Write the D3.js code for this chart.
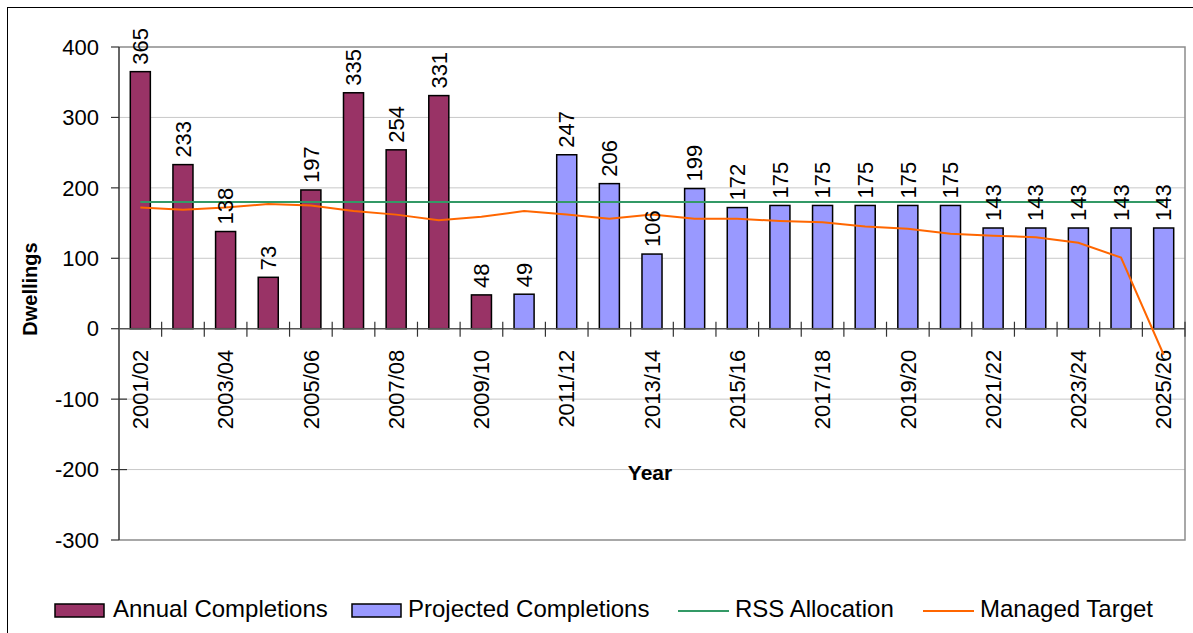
<!DOCTYPE html>
<html>
<head>
<meta charset="utf-8">
<script src="https://cdn.jsdelivr.net/npm/d3@7"></script>
<style>
  html, body { margin: 0; padding: 0; background: #fff; }
  svg { display: block; font-family: "Liberation Sans", Arial, sans-serif; }
</style>
</head>
<body>
<svg id="chart" width="1193" height="633"></svg>
<script>
const categories = ["2001/02","2002/03","2003/04","2004/05","2005/06","2006/07","2007/08","2008/09","2009/10","2010/11","2011/12","2012/13","2013/14","2014/15","2015/16","2016/17","2017/18","2018/19","2019/20","2020/21","2021/22","2022/23","2023/24","2024/25","2025/26"];
const annualCompletions = [365,233,138,73,197,335,254,331,48,null,null,null,null,null,null,null,null,null,null,null,null,null,null,null,null];
const projectedCompletions = [null,null,null,null,null,null,null,null,null,49,247,206,106,199,172,175,175,175,175,175,143,143,143,143,143];
const rssAllocation = [180,180,180,180,180,180,180,180,180,180,180,180,180,180,180,180,180,180,180,180,180,180,180,180,180];
const managedTarget = [172,169,172,177,175,167,162,154,159,167,162,156,162,156,156,153,151,145,142,135,132,130,122,101,-37];
const yTicks = [-300,-200,-100,0,100,200,300,400];
const seriesNames = ["Annual Completions","Projected Completions","RSS Allocation","Managed Target"];

const colAnnual = "#993366", colProj = "#9999FF", colRSS = "#339966", colMT = "#FF6600";

const svg = d3.select("#chart");
const L = 119, R = 1185, T = 47, B = 540;

// outer chart border (cropped on right and bottom)
svg.append("rect").attr("x",7.5).attr("y",7.5).attr("width",1300).attr("height",700)
  .attr("fill","none").attr("stroke","#000").attr("stroke-width",1);

const x = d3.scaleBand().domain(categories).range([L,R]).paddingInner(0.53).paddingOuter(0.265);
const y = d3.scaleLinear().domain([-300,400]).range([B,T]);
const cx = c => x(c) + x.bandwidth()/2;

// gridlines
svg.append("g").selectAll("line").data(yTicks.filter(t => t!==400 && t!==-300 && t!==0)).join("line")
  .attr("x1",L).attr("x2",R).attr("y1",d=>y(d)).attr("y2",d=>y(d))
  .attr("stroke","#c8c8c8").attr("stroke-width",1);

// plot border (top, right, bottom)
svg.append("path")
  .attr("d",`M${L},${y(400)}H${R}V${y(-300)}H${L}`)
  .attr("fill","none").attr("stroke","#8c8c8c").attr("stroke-width",1.5);

// bars
const bars = svg.append("g");
bars.selectAll("rect.a").data(categories.map((c,i)=>({c,v:annualCompletions[i]})).filter(d=>d.v!=null)).join("rect")
  .attr("x",d=>x(d.c)).attr("width",x.bandwidth())
  .attr("y",d=>y(Math.max(0,d.v))).attr("height",d=>Math.abs(y(d.v)-y(0)))
  .attr("fill",colAnnual).attr("stroke","#000").attr("stroke-width",1.5);
bars.selectAll("rect.p").data(categories.map((c,i)=>({c,v:projectedCompletions[i]})).filter(d=>d.v!=null)).join("rect")
  .attr("x",d=>x(d.c)).attr("width",x.bandwidth())
  .attr("y",d=>y(Math.max(0,d.v))).attr("height",d=>Math.abs(y(d.v)-y(0)))
  .attr("fill",colProj).attr("stroke","#000").attr("stroke-width",1.5);

// y axis
const yAxis = svg.append("g");
yAxis.append("line").attr("x1",L).attr("x2",L).attr("y1",T).attr("y2",B).attr("stroke","#333").attr("stroke-width",1.5);
yAxis.selectAll("line.t").data(yTicks).join("line")
  .attr("x1",111).attr("x2",d=> (d<0 && d>-300) ? 127 : L)
  .attr("y1",d=>y(d)).attr("y2",d=>y(d)).attr("stroke","#333").attr("stroke-width",1.2);
yAxis.selectAll("text").data(yTicks).join("text")
  .attr("x",99).attr("y",d=>y(d)).attr("dy","0.35em").attr("text-anchor","end")
  .attr("font-size",22).attr("fill","#000").text(d=>d);

// x axis at zero
const xAxis = svg.append("g");
xAxis.append("line").attr("x1",L).attr("x2",R).attr("y1",y(0)).attr("y2",y(0)).attr("stroke","#555").attr("stroke-width",1.5);
xAxis.selectAll("line.t").data(categories).join("line")
  .attr("x1",d=>x(d)+x.step()-x.step()*x.paddingInner()/2 ).attr("x2",d=>x(d)+x.step()-x.step()*x.paddingInner()/2)
  .attr("y1",y(0)-7).attr("y2",y(0)+8).attr("stroke","#333").attr("stroke-width",1.2);
xAxis.selectAll("text").data(categories.filter((c,i)=>i%2===0)).join("text")
  .attr("transform",d=>`translate(${cx(d)},${y(0)+21}) rotate(-90)`)
  .attr("dy","0.35em").attr("text-anchor","end").attr("font-size",22).attr("fill","#000").text(d=>d);

// lines
const line = d3.line().x((d,i)=>cx(categories[i])).y(d=>y(d));
svg.append("path").datum(rssAllocation).attr("d",line).attr("fill","none").attr("stroke",colRSS).attr("stroke-width",2);
svg.append("path").datum(managedTarget).attr("d",line).attr("fill","none").attr("stroke",colMT).attr("stroke-width",2);

// data labels
const labelData = categories.map((c,i)=>({c, v: annualCompletions[i]!=null ? annualCompletions[i] : projectedCompletions[i]}));
svg.append("g").selectAll("text").data(labelData).join("text")
  .attr("transform",d=>`translate(${cx(d.c)},${y(d.v)-7}) rotate(-90)`)
  .attr("dy","0.35em").attr("text-anchor","start").attr("font-size",22).attr("fill","#000").text(d=>d.v);

// axis titles
svg.append("text").attr("transform",`translate(30,289) rotate(-90)`).attr("dy","0.35em")
  .attr("text-anchor","middle").attr("font-size",20).attr("font-weight","bold").text("Dwellings");
svg.append("text").attr("x",650).attr("y",480).attr("text-anchor","middle")
  .attr("font-size",21).attr("font-weight","bold").text("Year");

// legend
const lg = svg.append("g");
const lgY = 610.5;
const legendItems = [
  {name:seriesNames[0], type:"rect", color:colAnnual, sx:55, tx:113},
  {name:seriesNames[1], type:"rect", color:colProj, sx:352, tx:408},
  {name:seriesNames[2], type:"line", color:colRSS, sx:678, tx:735},
  {name:seriesNames[3], type:"line", color:colMT, sx:923, tx:980}
];
legendItems.forEach(it=>{
  if(it.type==="rect"){
    lg.append("rect").attr("x",it.sx).attr("y",lgY-6.5).attr("width",49).attr("height",13)
      .attr("fill",it.color).attr("stroke","#000").attr("stroke-width",1.5);
  } else {
    lg.append("line").attr("x1",it.sx).attr("x2",it.sx+51).attr("y1",lgY+0.5).attr("y2",lgY+0.5)
      .attr("stroke",it.color).attr("stroke-width",2);
  }
  lg.append("text").attr("x",it.tx).attr("y",617).attr("font-size",24).attr("fill","#000").text(it.name);
});
</script>
</body>
</html>
